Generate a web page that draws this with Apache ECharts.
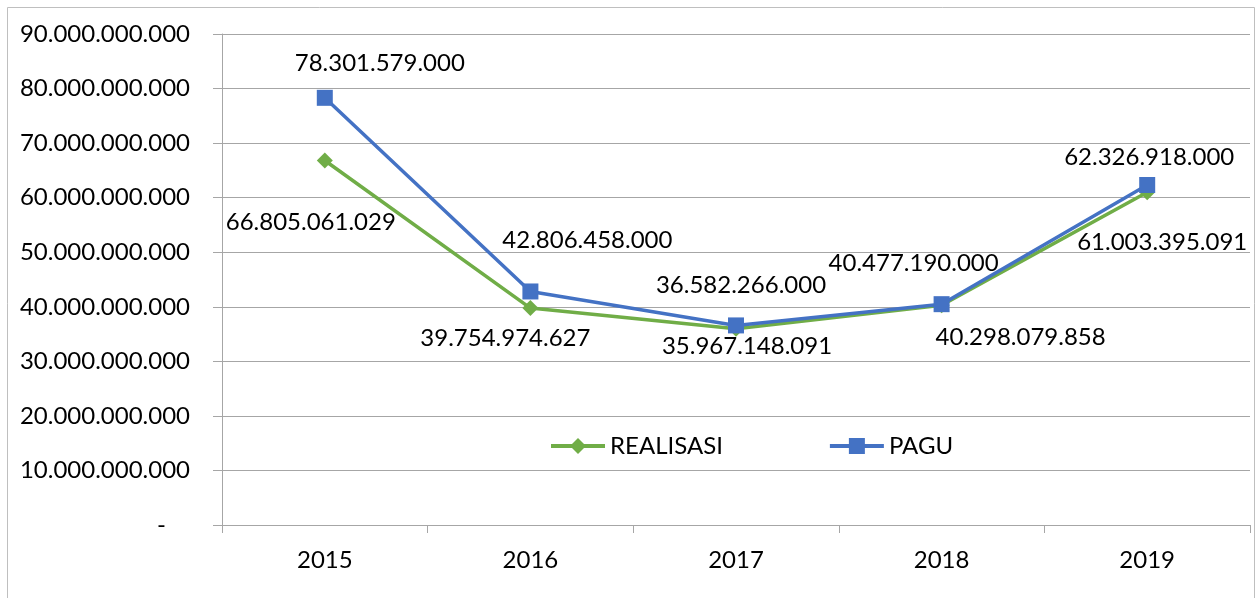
<!DOCTYPE html>
<html>
<head>
<meta charset="utf-8">
<script src="https://cdn.jsdelivr.net/npm/echarts@6/dist/echarts.min.js"></script>
<style>
html,body{margin:0;padding:0;background:#fff;}
#c{width:1256px;height:598px;}
</style>
</head>
<body>
<div id="c"></div>
<script>
const categories = ['2015', '2016', '2017', '2018', '2019'];
const realisasi = [66805061029, 39754974627, 35967148091, 40298079858, 61003395091];
const pagu = [78301579000, 42806458000, 36582266000, 40477190000, 62326918000];
const seriesNames = ['REALISASI', 'PAGU'];
const yTicks = { min: 0, max: 90000000000, interval: 10000000000 };

// label offsets (style/position only)
const realisasiLabelOffset = [[-14, 62], [-25, 30], [11, 17], [79, 32], [15, 50]];
const paguLabelOffset = [[55, -35], [57, -51], [5, -40], [-28, -41], [2, -28]];

const FONT = 'Lato';
const FS = 24;
function fmt(v) {
  return String(Math.round(v)).replace(/\B(?=(\d{3})+(?!\d))/g, '.');
}
function build(values, offsets) {
  return values.map((v, i) => ({ value: v, label: { offset: offsets[i] } }));
}

const chart = echarts.init(document.getElementById('c'), null, { renderer: 'canvas' });
chart.setOption({
  backgroundColor: '#fff',
  animation: false,
  textStyle: { fontFamily: FONT },
  graphic: [{
    type: 'rect', shape: { x: 7.5, y: 7.5, width: 1247, height: 620 },
    style: { fill: 'none', stroke: '#bfbfbf', lineWidth: 1 }, silent: true, z: -1
  }],
  grid: { left: 222, right: 6, top: 34, bottom: 73, containLabel: false },
  legend: {
    data: seriesNames,
    left: 544, top: 429,
    itemWidth: 54, itemHeight: 20, itemGap: 105,
    lineStyle: { width: 4 },
    textStyle: { fontFamily: FONT, fontSize: FS, color: '#000' }
  },
  xAxis: {
    type: 'category', data: categories, boundaryGap: true,
    axisLine: { lineStyle: { color: '#a6a6a6', width: 1 } },
    axisTick: { show: true, length: 8, lineStyle: { color: '#a6a6a6' } },
    axisLabel: { margin: 23, color: '#000', fontFamily: FONT, fontSize: FS }
  },
  yAxis: {
    type: 'value', min: yTicks.min, max: yTicks.max, interval: yTicks.interval,
    axisLine: { show: true, lineStyle: { color: '#a6a6a6', width: 1 } },
    axisTick: { show: true, length: 9, lineStyle: { color: '#a6a6a6' } },
    splitLine: { show: true, lineStyle: { color: '#a6a6a6', width: 1 } },
    axisLabel: {
      margin: 32, color: '#000', fontFamily: FONT, fontSize: FS,
      formatter: function (v) { return v === 0 ? '{d|-}' : fmt(v); },
      rich: { d: { fontFamily: FONT, fontSize: FS, color: '#000', padding: [0, 24, 0, 0] } }
    }
  },
  series: [
    {
      name: seriesNames[0], type: 'line', data: build(realisasi, realisasiLabelOffset),
      symbol: 'diamond', symbolSize: 16,
      itemStyle: { color: '#70AD47' },
      lineStyle: { color: '#70AD47', width: 3.5 },
      label: {
        show: true, position: 'inside', align: 'center', verticalAlign: 'middle',
        color: '#000', fontFamily: FONT, fontSize: FS,
        formatter: p => fmt(p.value)
      },
      z: 2
    },
    {
      name: seriesNames[1], type: 'line', data: build(pagu, paguLabelOffset),
      symbol: 'rect', symbolSize: 16,
      itemStyle: { color: '#4472C4' },
      lineStyle: { color: '#4472C4', width: 3.5 },
      label: {
        show: true, position: 'inside', align: 'center', verticalAlign: 'middle',
        color: '#000', fontFamily: FONT, fontSize: FS,
        formatter: p => fmt(p.value)
      },
      z: 3
    }
  ]
});
</script>
</body>
</html>
